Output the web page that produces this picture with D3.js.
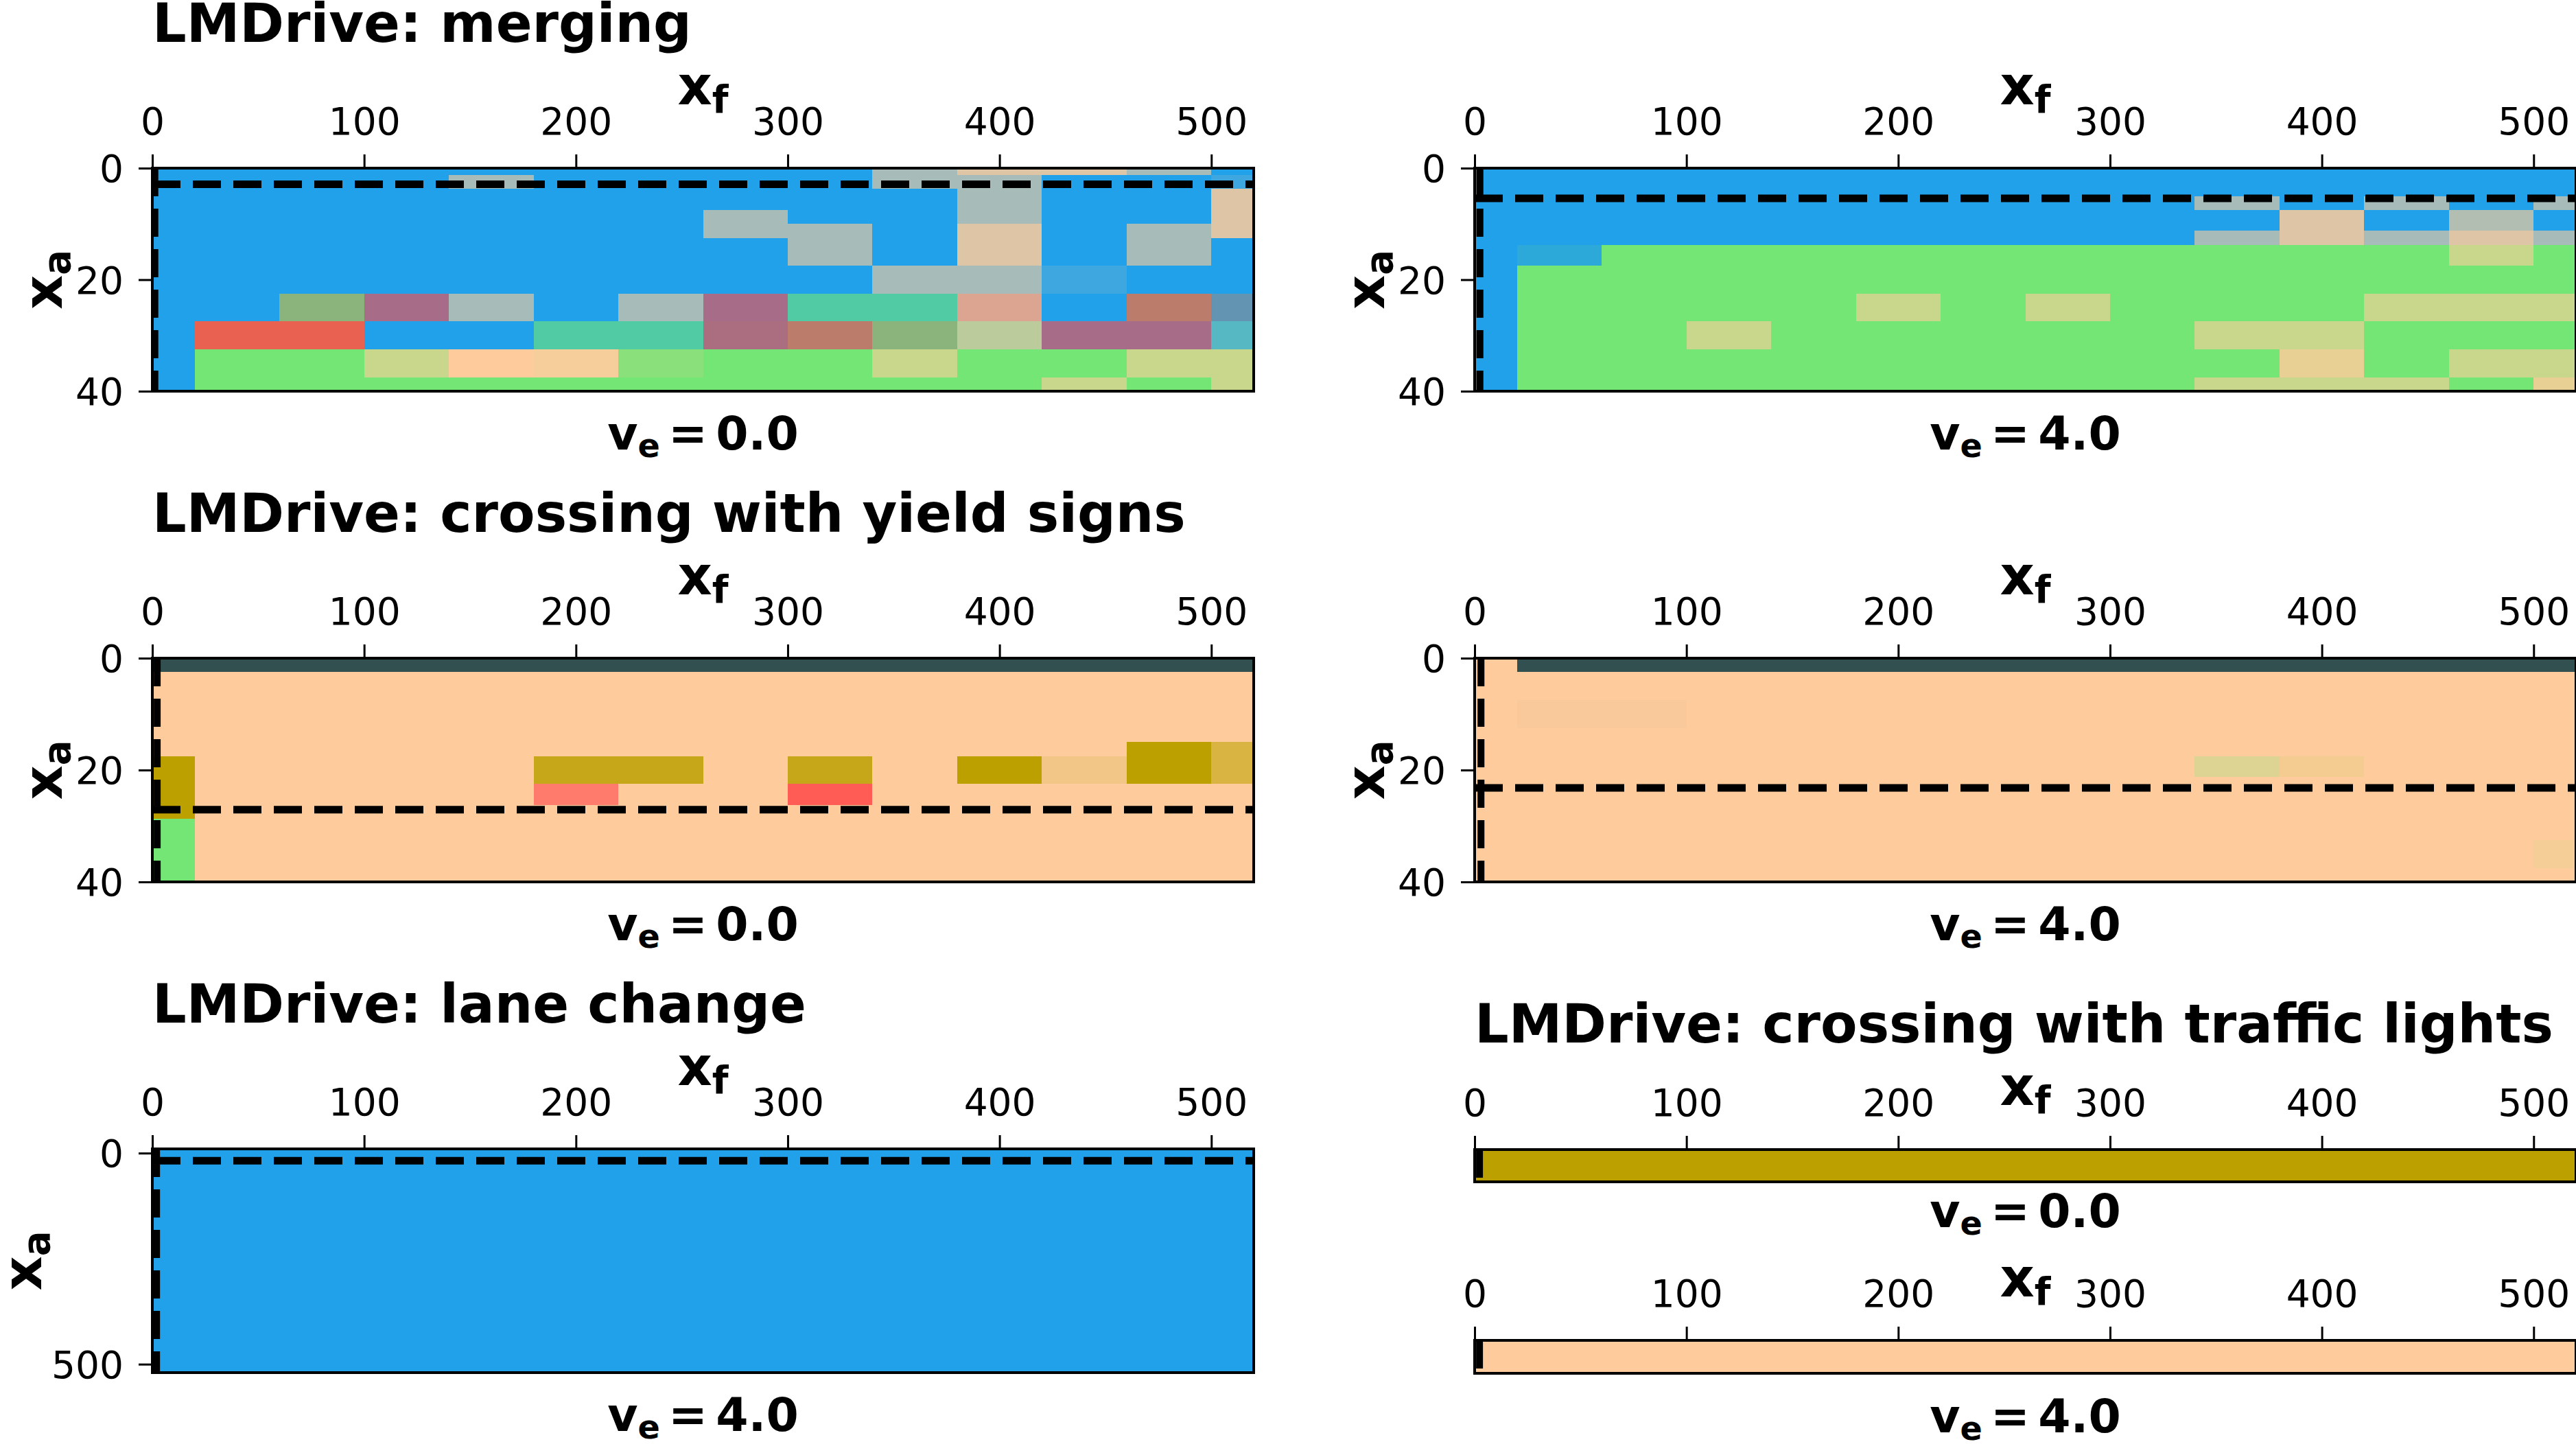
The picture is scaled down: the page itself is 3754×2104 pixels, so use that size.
<!DOCTYPE html>
<html>
<head>
<meta charset="utf-8">
<script src="https://cdn.jsdelivr.net/npm/d3@7"></script>
<style>
  body { margin: 0; background: #fff; }
  svg { display: block; font-family: "DejaVu Sans", sans-serif; }
</style>
</head>
<body>
<script>
// colour keys used by the cells below
const colors = {
  B: "#21a1e9", b: "#3ea7df", G: "#a7bbb8", T: "#ddc5a5", O: "#8ab47b", P: "#a76c87",
  p: "#aa6e80", C: "#51cba3", S: "#dca592", R: "#bb7c6b", L: "#6395b2", E: "#e96150",
  N: "#74e676", Y: "#c8d78c", F: "#fecc9c", H: "#f5ce9b", K: "#55b8c3", V: "#bccb9c",
  W: "#8ae07a", D: "#32504f", A: "#bca000", a: "#c6a71a", M: "#ff7b6b", Q: "#ff5c55",
  U: "#f2c686", Z: "#d9b443", X: "#b3beb3", I: "#e8cf93", J: "#2ca9d8", j: "#ddd393",
  k: "#f4cc92", l: "#f9c99b", m: "#f5cd96"
};

const titles = ["LMDrive: merging", "LMDrive: crossing with yield signs",
  "LMDrive: lane change", "LMDrive: crossing with traffic lights"];
const speeds = ["0.0", "4.0", "0.0", "4.0", "4.0", "0.0", "4.0"];
const xTicks = [0, 100, 200, 300, 400, 500];
const yTicksSmall = [0, 20, 40];
const yTicksLane = [0, 500];

// cells: [xf start, xf end, xa start, xa end, colour key], later ones drawn on top
const mergeV0Cells = [
  [0, 520, 0, 40, "B"],
  [340, 380, 0, 3.75, "G"], [380, 460, 0, 1.25, "T"], [460, 500, 0, 1.25, "G"],
  [140, 180, 1.25, 3.75, "G"], [380, 420, 1.25, 10, "G"], [500, 520, 1.25, 3.75, "b"],
  [500, 520, 3.75, 12.5, "T"], [260, 300, 7.5, 12.5, "G"], [300, 340, 10, 17.5, "G"],
  [380, 420, 10, 17.5, "T"], [460, 500, 10, 17.5, "G"], [340, 420, 17.5, 22.5, "G"],
  [420, 460, 17.5, 22.5, "b"],
  [60, 100, 22.5, 27.5, "O"], [100, 140, 22.5, 27.5, "P"], [140, 180, 22.5, 27.5, "G"],
  [220, 260, 22.5, 27.5, "G"], [260, 300, 22.5, 27.5, "P"], [300, 380, 22.5, 27.5, "C"],
  [380, 420, 22.5, 27.5, "S"], [460, 500, 22.5, 27.5, "R"], [500, 520, 22.5, 27.5, "L"],
  [20, 100, 27.5, 32.5, "E"], [180, 260, 27.5, 32.5, "C"], [260, 300, 27.5, 32.5, "p"],
  [300, 340, 27.5, 32.5, "R"], [340, 380, 27.5, 32.5, "O"], [380, 420, 27.5, 32.5, "V"],
  [420, 500, 27.5, 32.5, "P"], [500, 520, 27.5, 32.5, "K"],
  [20, 520, 32.5, 40, "N"], [100, 140, 32.5, 37.5, "Y"], [140, 180, 32.5, 37.5, "F"],
  [180, 220, 32.5, 37.5, "H"], [220, 260, 32.5, 37.5, "W"], [340, 380, 32.5, 37.5, "Y"],
  [460, 520, 32.5, 37.5, "Y"], [420, 460, 37.5, 40, "Y"], [500, 520, 37.5, 40, "Y"]
];

const mergeV4Cells = [
  [0, 520, 0, 40, "N"], [0, 520, 0, 13.75, "B"], [0, 20, 0, 40, "B"],
  [340, 380, 5, 7.5, "G"], [420, 460, 5, 7.5, "G"], [500, 520, 5, 7.5, "G"],
  [380, 420, 7.5, 13.75, "T"], [460, 500, 7.5, 11.25, "X"],
  [340, 380, 11.25, 13.75, "G"], [420, 460, 11.25, 13.75, "G"],
  [460, 500, 11.25, 13.75, "T"], [500, 520, 11.25, 13.75, "G"],
  [20, 60, 13.75, 17.5, "J"], [460, 500, 13.75, 17.5, "Y"],
  [180, 220, 22.5, 27.5, "Y"], [260, 300, 22.5, 27.5, "Y"], [420, 520, 22.5, 27.5, "Y"],
  [100, 140, 27.5, 32.5, "Y"], [340, 420, 27.5, 32.5, "Y"],
  [380, 420, 32.5, 37.5, "I"], [460, 520, 32.5, 37.5, "Y"],
  [340, 460, 37.5, 40, "Y"], [500, 520, 37.5, 40, "I"]
];

const yieldV0Cells = [
  [0, 520, 0, 40, "F"], [0, 520, 0, 2.5, "D"],
  [0, 20, 17.5, 28.75, "A"], [0, 20, 28.75, 40, "N"],
  [180, 260, 17.5, 22.5, "a"], [180, 220, 22.5, 26.25, "M"],
  [300, 340, 17.5, 22.5, "a"], [300, 340, 22.5, 26.25, "Q"],
  [380, 420, 17.5, 22.5, "A"], [420, 460, 17.5, 22.5, "U"],
  [460, 500, 15, 22.5, "A"], [500, 520, 15, 22.5, "Z"]
];

const yieldV4Cells = [
  [0, 520, 0, 40, "F"], [20, 520, 0, 2.5, "D"], [20, 100, 7.5, 12.5, "l"],
  [340, 380, 17.5, 21.25, "j"], [380, 420, 17.5, 21.25, "k"], [500, 520, 32.5, 37.5, "m"]
];

const laneV4Cells = [[0, 520, -10, 520, "B"]];
const lightsV0Cells = [[0, 520, 0, 1, "A"]];
const lightsV4Cells = [[0, 520, 0, 1, "F"]];

// dashed reference lines (xa level, xf position) per panel
const hLines = [2.9, 5.4, 27.1, 23.2, 18, null, null];
const vLines = [1.2, 2.5, 2.3, 3, 2, 2.3, 2.3];

const W = 3754, H = 2104;
const LEFT = 222, RIGHT = 2149, AXW = 1605;

const panels = [
  {cells: mergeV0Cells, x0: LEFT, top: 245, h: 325, yDomain: [0, 40], yTicks: yTicksSmall, title: titles[0]},
  {cells: mergeV4Cells, x0: RIGHT, top: 245, h: 325, yDomain: [0, 40], yTicks: yTicksSmall},
  {cells: yieldV0Cells, x0: LEFT, top: 959, h: 326, yDomain: [0, 40], yTicks: yTicksSmall, title: titles[1]},
  {cells: yieldV4Cells, x0: RIGHT, top: 959, h: 326, yDomain: [0, 40], yTicks: yTicksSmall},
  {cells: laneV4Cells, x0: LEFT, top: 1674, h: 326, yDomain: [-10, 520], yTicks: yTicksLane, title: titles[2], ylabOff: 162},
  {cells: lightsV0Cells, x0: RIGHT, top: 1675, h: 47, yDomain: [0, 1], yTicks: [], title: titles[3], titleY: 1519, xlabY: 1610, veY: 1788},
  {cells: lightsV4Cells, x0: RIGHT, top: 1953, h: 48, yDomain: [0, 1], yTicks: [], xlabY: 1889, veY: 2087}
];

const svg = d3.select("body").append("svg")
  .attr("width", W).attr("height", H)
  .attr("viewBox", [0, 0, W, H]);

function mathText(g, x, y, base, sub, rest, size) {
  const t = g.append("text")
    .attr("x", x).attr("y", y)
    .attr("font-size", size).attr("font-weight", "bold")
    .attr("text-anchor", "middle");
  t.append("tspan").text(base);
  t.append("tspan").attr("font-size", size * 0.7).attr("dy", size * 0.16).text(sub);
  if (rest != null) {
    t.append("tspan").attr("dy", -size * 0.16).attr("dx", size * 0.18).text("=");
    t.append("tspan").attr("dx", size * 0.18).text(rest);
  }
  return t;
}

panels.forEach((p, i) => {
  const x = d3.scaleLinear().domain([0, 520]).range([p.x0, p.x0 + AXW]);
  const y = d3.scaleLinear().domain(p.yDomain).range([p.top, p.top + p.h]);
  const g = svg.append("g");

  g.append("g").selectAll("rect")
    .data(p.cells)
    .join("rect")
    .attr("x", d => x(d[0]))
    .attr("width", d => x(d[1]) - x(d[0]))
    .attr("y", d => y(Math.max(d[2], p.yDomain[0])))
    .attr("height", d => y(Math.min(d[3], p.yDomain[1])) - y(Math.max(d[2], p.yDomain[0])))
    .attr("fill", d => colors[d[4]])
    .attr("shape-rendering", "crispEdges");

  // dashed lines
  if (hLines[i] != null) g.append("line")
    .attr("x1", x(0)).attr("x2", x(520))
    .attr("y1", y(hLines[i])).attr("y2", y(hLines[i]))
    .attr("stroke", "#000").attr("stroke-width", 11)
    .attr("stroke-dasharray", "41,18");
  g.append("line")
    .attr("x1", x(vLines[i])).attr("x2", x(vLines[i]))
    .attr("y1", p.top).attr("y2", p.top + p.h)
    .attr("stroke", "#000").attr("stroke-width", 10)
    .attr("stroke-dasharray", "41,18");

  // spines
  g.append("rect")
    .attr("x", p.x0).attr("y", p.top)
    .attr("width", AXW).attr("height", p.h)
    .attr("fill", "none").attr("stroke", "#000").attr("stroke-width", 4);

  // axes
  const ax = g.append("g")
    .attr("transform", `translate(0,${p.top})`)
    .call(d3.axisTop(x).tickValues(xTicks).tickSize(20).tickPadding(29));
  const ay = g.append("g")
    .attr("transform", `translate(${p.x0},0)`)
    .call(d3.axisLeft(y).tickValues(p.yTicks).tickSize(20).tickPadding(22));
  [ax, ay].forEach(a => {
    a.select(".domain").remove();
    a.selectAll("line").attr("stroke", "#000").attr("stroke-width", 3);
    a.selectAll("text").attr("font-size", 55).attr("fill", "#000")
      .attr("font-family", "DejaVu Sans");
  });
  ay.selectAll("text").attr("dy", "0.36em");

  const cx = p.x0 + AXW / 2;
  mathText(g, cx, p.xlabY != null ? p.xlabY : p.top - 93, "x", "f", null, 78);
  mathText(g, cx, p.veY != null ? p.veY : p.top + p.h + 85, "v", "e", speeds[i], 68);

  if (p.yTicks.length) {
    const yl = g.append("g")
      .attr("transform", `translate(${p.x0 - (p.ylabOff || 132)},${p.top + p.h / 2}) rotate(-90)`);
    mathText(yl, 0, 0, "x", "a", null, 78);
  }

  if (p.title) g.append("text")
    .attr("x", p.x0)
    .attr("y", p.titleY != null ? p.titleY : p.top - 184)
    .attr("font-size", 78).attr("font-weight", "bold")
    .text(p.title);
});
</script>
</body>
</html>
